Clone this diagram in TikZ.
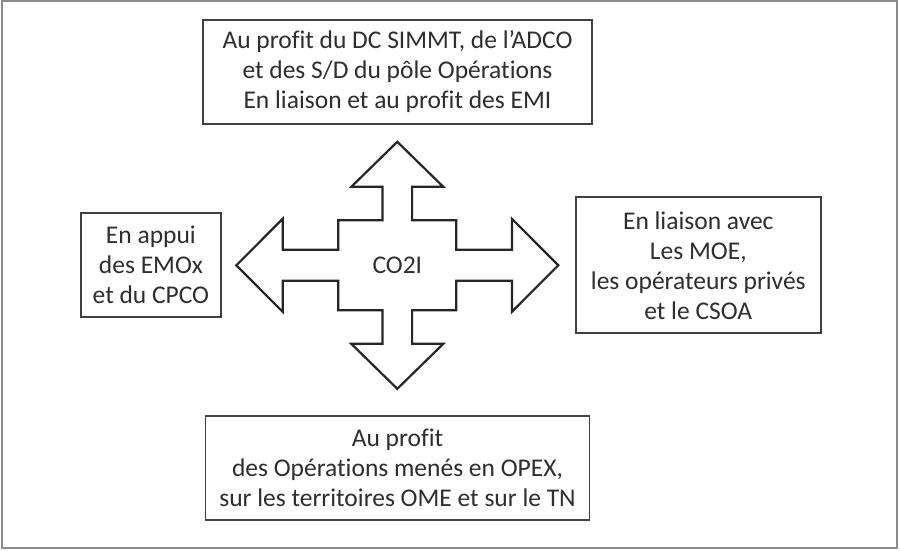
\documentclass[tikz,border=0pt]{standalone}
\usepackage{fontspec}
\setmainfont[RawFeature=-liga]{Carlito}
\definecolor{txt}{HTML}{2E2E2E}
\definecolor{edge}{HTML}{404040}
\definecolor{frame}{HTML}{8C8C8C}
\begin{document}
\begin{tikzpicture}[x=1pt,y=-1pt,
  box/.style={draw=edge,line width=1.8pt,fill=white,inner sep=0pt,align=center,text=txt,
    font=\fontsize{25.5}{30}\selectfont},
  label/.style={inner sep=0pt,text=txt,font=\fontsize{25.5}{30}\selectfont},
  bigarrow/.style={draw=black!85,line width=2.2pt,fill=white,line join=miter}]
\useasboundingbox (0,0) rectangle (900,550);
\draw[frame,line width=2pt] (2,1) rectangle (897,547.5);
% four-way arrow
\begin{scope}[shift={(397.3,265.3)}]
\draw[bigarrow] (0,-123.5) -- (46,-78.5) -- (14.8,-78.5) -- (14.8,-45) -- (59,-45) -- (59,-15.5)
  -- (114.6,-15.5) -- (114.6,-46.5) -- (161,0) -- (114.6,46.5) -- (114.6,15.5) -- (59,15.5)
  -- (59,45) -- (14.8,45) -- (14.8,78.5) -- (46,78.5) -- (0,123.5) -- (-46,78.5) -- (-14.8,78.5)
  -- (-14.8,45) -- (-59,45) -- (-59,15.5) -- (-114.6,15.5) -- (-114.6,46.5) -- (-161,0)
  -- (-114.6,-46.5) -- (-114.6,-15.5) -- (-59,-15.5) -- (-59,-45) -- (-14.8,-45) -- (-14.8,-78.5)
  -- (-46,-78.5) -- cycle;
\end{scope}
\node[label] (c) at (397.3,265.3) {CO2I};
\node[box,minimum width=389,minimum height=104] (top) at (397.5,72)
  {Au profit du DC SIMMT, de l’ADCO\\et des S/D du pôle Opérations\\En liaison et au profit des EMI};
\node[box,minimum width=140,minimum height=104] (left) at (150.9,265.3)
  {En appui\\des EMOx\\et du CPCO};
\node[box,minimum width=245,minimum height=136] (right) at (698.3,265.3)
  {En liaison avec\\Les MOE,\\les opérateurs privés\\et le CSOA};
\node[box,minimum width=384,minimum height=104] (bottom) at (397.5,468)
  {Au profit\\des Opérations menés en OPEX,\\sur les territoires OME et sur le TN};
\end{tikzpicture}
\end{document}
